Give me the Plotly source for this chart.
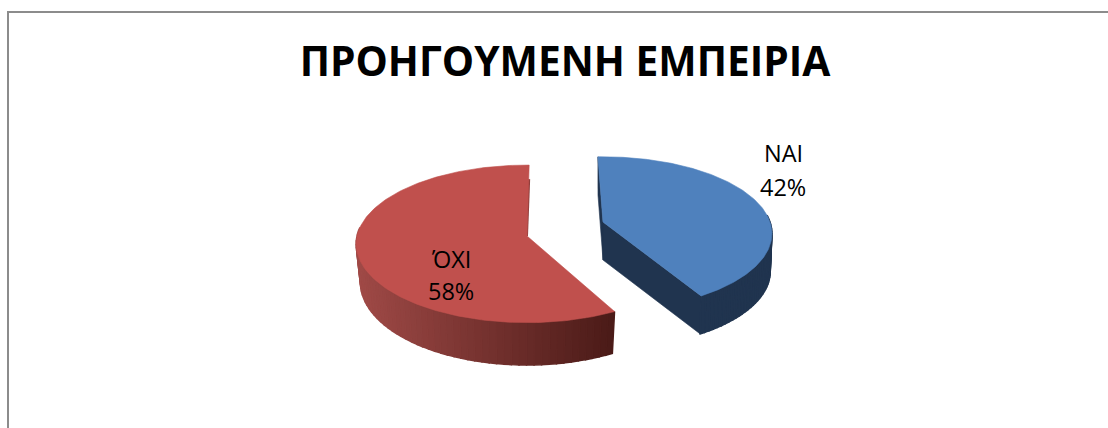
import numpy as np
import plotly.graph_objects as go

# --- chart data ---
TITLE = "ΠΡΟΗΓΟΥΜΕΝΗ ΕΜΠΕΙΡΙΑ"
categories = ["ΝΑΙ", "ΌΧΙ"]
percentages = [42, 58]

# --- look of the slices (pixel layout of the tilted, exploded pie) ---
W, H = 1108, 428
DEPTH = 38
FONT = "Open Sans, Noto Sans, sans-serif"
SLICES = {
    "ΝΑΙ": dict(ax=603, ay=222, rx=167, ry=75, k=0.15, rot=-2.0, sx=0.99, sy=1.0, top="#4f81bd",
                side0="#20344f", side1="#20344f", label=(783, 153, 187)),
    "ΌΧΙ": dict(ax=527, ay=236, rx=170, ry=78, k=0.10, rot=0.8, sx=0.975, sy=1.05, top="#c0504d",
                side0="#a04a47", side1="#4a1a17", label=(451, 259, 291)),
}


def project(theta, g, lower=False):
    """Map a pie angle (radians, clockwise from 12 o'clock) to the tilted page."""
    u, v = np.sin(theta), np.cos(theta)
    w = 1 + g["k"] * v
    sx = g["sx"] if lower else 1.0
    sy = g["sy"] if lower else 1.0
    d = DEPTH if lower else 0.0
    return g["ax"] + sx * g["rx"] * u / w, g["ay"] - sy * g["ry"] * v / w + d


def mix(c0, c1, t):
    a = [int(c0[i:i + 2], 16) for i in (1, 3, 5)]
    b = [int(c1[i:i + 2], 16) for i in (1, 3, 5)]
    return "rgb({},{},{})".format(*[round(x + (y - x) * t) for x, y in zip(a, b)])


def poly(xs, ys, color, name, lw=0.6):
    return go.Scatter(x=list(xs), y=list(ys), mode="lines", fill="toself", fillcolor=color,
                      line=dict(color=color, width=lw), hoverinfo="skip", showlegend=False, name=name)


fig = go.Figure()
start = 0.0
for cat, pct in zip(categories, percentages):
    g = SLICES[cat]
    t0 = np.radians(g["rot"]) + start
    t1 = t0 + 2 * np.pi * pct / sum(percentages)
    start += 2 * np.pi * pct / sum(percentages)
    apex_low = (g["ax"], g["ay"] + DEPTH)

    # straight cut faces (only those that face the viewer)
    if cat == "ΝΑΙ":
        for t in (t0, t1):
            x0, y0 = project(t, g)
            x1, y1 = project(t, g, True)
            fig.add_trace(poly([g["ax"], x0, x1, apex_low[0], g["ax"]],
                               [g["ay"], y0, y1, apex_low[1], g["ay"]], g["side1"], cat + " wall"))
    else:
        x0, y0 = project(t1, g)
        fig.add_trace(go.Scatter(x=[x0, g["ax"]], y=[y0 + 14, g["ay"]], mode="lines",
                                 line=dict(color="#8e3d3a", width=2), hoverinfo="skip", showlegend=False))

    # curved outer wall, built of small shaded strips
    angles = np.linspace(t0, t1, 90)
    for a, b in zip(angles[:-1], angles[1:]):
        if np.cos((a + b) / 2) > 0.10:
            continue
        xa, ya = project(a, g)
        xb, yb = project(b, g)
        xc, yc = project(b, g, True)
        xd, yd = project(a, g, True)
        frac = 1 - (np.sin((a + b) / 2) + 1) / 2
        if cat == "ΌΧΙ":
            frac = np.clip(((xa + xb) / 2 - 355) / (615 - 355), 0, 1)
        col = mix(g["side0"], g["side1"], frac)
        fig.add_trace(poly([xa, xb, xc, xd, xa], [ya, yb, yc, yd, ya], col, cat + " side", lw=1.5))

    # flat top surface
    angles = np.linspace(t0, t1, 200)
    xs, ys = project(angles, g)
    fig.add_trace(poly(np.r_[g["ax"], xs, g["ax"]], np.r_[g["ay"], ys, g["ay"]], g["top"], cat))

    # data label as real text, one annotation per line to keep the line pitch
    for text, y in ((cat, g["label"][1]), (f"{pct}%", g["label"][2])):
        fig.add_annotation(x=g["label"][0], y=y, text=text, showarrow=False,
                           font=dict(family=FONT, size=23.5, color="#000000"),
                           xanchor="center", yanchor="middle", align="center")

fig.update_layout(
    width=W, height=H, margin=dict(l=0, r=0, t=0, b=0),
    paper_bgcolor="#ffffff", plot_bgcolor="#ffffff", showlegend=False,
    title=dict(text=f"<b>{TITLE}</b>", x=565 / W, xanchor="center", y=1 - 62 / H, yanchor="middle",
               font=dict(family=FONT, size=40.7, color="#000000")),
    xaxis=dict(range=[0, W], visible=False, fixedrange=True),
    yaxis=dict(range=[H, 0], visible=False, fixedrange=True),
    shapes=[dict(type="rect", xref="x", yref="y", x0=8, y0=12, x1=1130, y1=450,
                 line=dict(color="#8c8c8c", width=2), layer="below")],
)
fig.write_html("out.html", config=dict(displayModeBar=False),
               post_script="document.body.style.margin='0';document.documentElement.style.overflow='hidden';")
